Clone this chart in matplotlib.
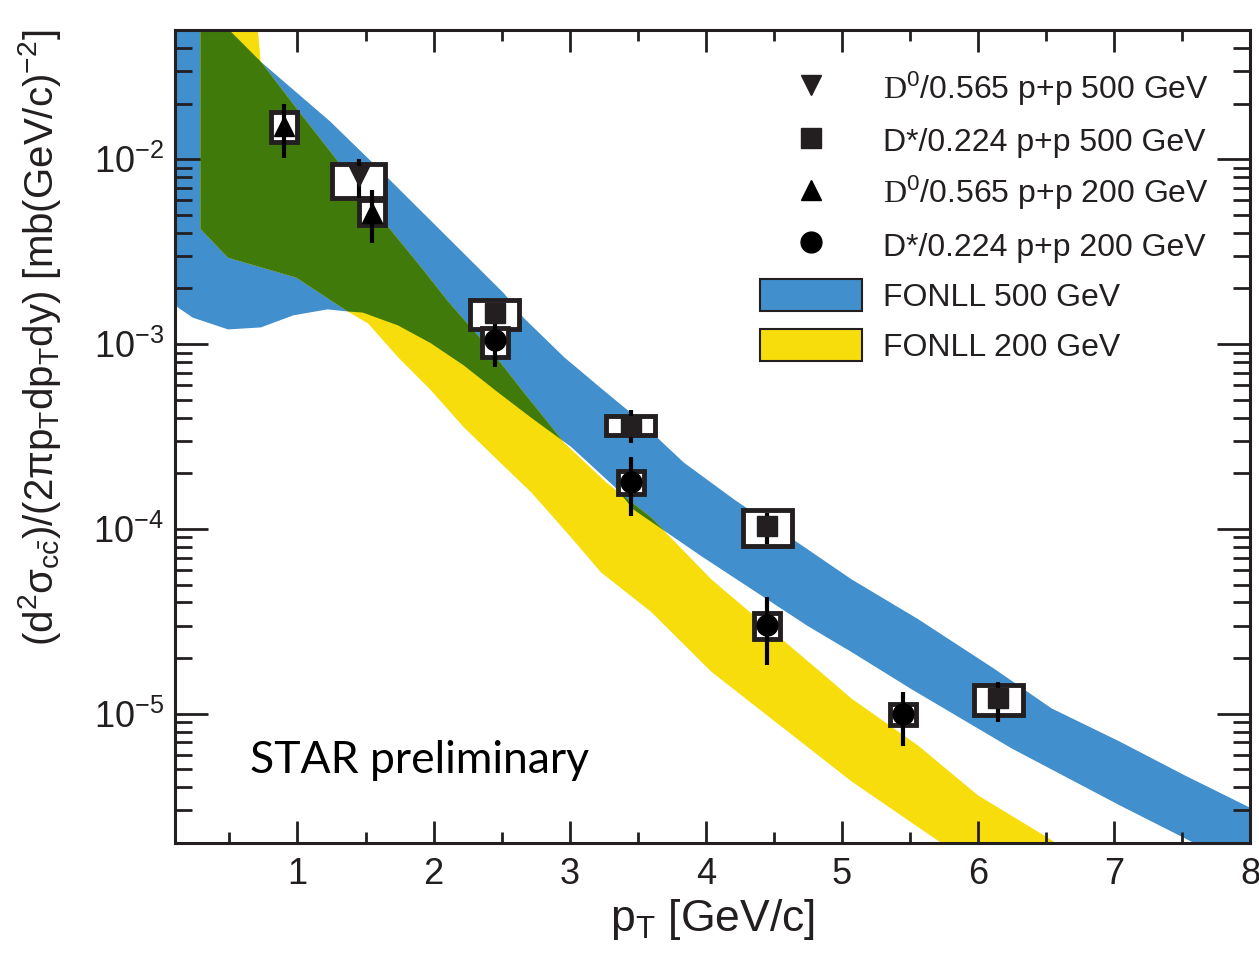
import numpy as np
import matplotlib
matplotlib.use('Agg')
import matplotlib.pyplot as plt
from matplotlib.patches import Rectangle, Patch
from matplotlib.lines import Line2D
from matplotlib.ticker import MultipleLocator, LogLocator, NullFormatter

plt.rcParams['font.family'] = ['Liberation Sans', 'DejaVu Sans']
plt.rcParams['mathtext.fontset'] = 'custom'
plt.rcParams['mathtext.rm'] = 'Liberation Sans'
plt.rcParams['mathtext.it'] = 'Liberation Sans'
plt.rcParams['mathtext.tt'] = 'Liberation Serif'
plt.rcParams['axes.unicode_minus'] = False

DARK = '#231f20'
BLUE = '#418fcd'
YELLOW = '#f7dd0b'
GREEN = '#407a0a'

# FONLL 500 GeV band (upper / lower edges)
fonll500_x_up = [0.1, 0.51, 0.73, 1.24, 1.54, 2.52, 2.66, 2.96, 3.23, 3.45, 3.84, 4.21,
                 4.75, 5.07, 5.56, 6.12, 6.54, 7.04, 7.52, 8.0]
fonll500_up = [1.0e-1, 4.9e-2, 3.37e-2, 1.60e-2, 9.76e-3, 1.87e-3, 1.39e-3, 8.48e-4, 5.77e-4,
               4.24e-4, 2.28e-4, 1.44e-4, 7.74e-5, 5.34e-5, 3.25e-5, 1.75e-5, 1.07e-5,
               7.08e-6, 4.64e-6, 3.1e-6]
fonll500_x_lo = [0.1, 0.12, 0.23, 0.49, 0.73, 0.97, 1.22, 1.37, 1.48, 1.74, 1.98, 2.22, 2.47,
                 2.72, 3.01, 3.33, 3.47, 3.97, 4.75, 5.07, 5.51, 6.25, 7.04, 7.52, 8.0]
fonll500_lo = [1.68e-3, 1.58e-3, 1.39e-3, 1.20e-3, 1.23e-3, 1.43e-3, 1.54e-3, 1.50e-3, 1.48e-3,
               1.26e-3, 1.01e-3, 7.68e-4, 5.50e-4, 3.98e-4, 2.78e-4, 1.69e-4, 1.27e-4,
               7.10e-5, 2.98e-5, 2.16e-5, 1.36e-5, 6.48e-6, 3.20e-6, 2.12e-6, 1.4e-6]

# FONLL 200 GeV band
fonll200_x_up = [0.287, 0.71, 0.73, 1.01, 1.24, 1.69, 1.91, 2.10, 2.42, 2.66, 2.96, 3.27,
                 3.60, 4.04, 4.90, 5.07, 5.56, 6.00, 6.52, 6.76]
fonll200_up = [2e-1, 4.89e-2, 3.37e-2, 1.81e-2, 1.10e-2, 4.09e-3, 2.59e-3, 1.72e-3, 9.25e-4,
               5.50e-4, 2.92e-4, 1.78e-4, 1.15e-4, 5.34e-5, 1.55e-5, 1.21e-5, 6.73e-6,
               3.62e-6, 2.12e-6, 1.6e-6]
fonll200_x_lo = [0.287, 0.49, 0.99, 1.37, 1.52, 1.74, 1.98, 2.22, 2.47, 2.72, 3.01, 3.23,
                 3.60, 4.04, 5.07, 5.68, 5.95]
fonll200_lo = [4.2e-3, 2.93e-3, 2.29e-3, 1.50e-3, 1.29e-3, 8.47e-4, 5.63e-4, 3.56e-4, 2.36e-4,
               1.57e-4, 9.0e-5, 5.82e-5, 3.55e-5, 1.69e-5, 4.31e-6, 2.12e-6, 1.56e-6]

# data points: x, y, stat (low, high), sys (low, high)
d0_500_x = [1.45]
d0_500_y = [8.1e-3]
d0_500_stat = ([6.2e-3], [1.0e-2])
d0_500_sys = ([6.2e-3], [9.46e-3])

dstar_500_x = [2.45, 3.45, 4.45, 6.15]
dstar_500_y = [1.48e-3, 3.6e-4, 1.04e-4, 1.21e-5]
dstar_500_stat = ([1.35e-3, 2.92e-4, 8.24e-5, 9.05e-6], [1.62e-3, 4.4e-4, 1.22e-4, 1.49e-5])
dstar_500_sys = ([1.21e-3, 3.21e-4, 8.09e-5, 9.8e-6], [1.73e-3, 4.10e-4, 1.26e-4, 1.43e-5])

d0_200_x = [0.9, 1.55]
d0_200_y = [1.51e-2, 5.12e-3]
d0_200_stat = ([1.01e-2, 3.53e-3], [2.0e-2, 6.8e-3])
d0_200_sys = ([1.24e-2, 4.39e-3], [1.80e-2, 5.98e-3])

dstar_200_x = [2.45, 3.45, 4.45, 5.45]
dstar_200_y = [1.05e-3, 1.80e-4, 3.02e-5, 1.0e-5]
dstar_200_stat = ([7.5e-4, 1.18e-4, 1.84e-5, 6.73e-6], [1.31e-3, 2.45e-4, 4.27e-5, 1.31e-5])
dstar_200_sys = ([8.53e-4, 1.54e-4, 2.55e-5, 8.69e-6], [1.22e-3, 2.07e-4, 3.52e-5, 1.13e-5])

labels = [r'$\mathtt{D}^{0}$/0.565 p+p 500 GeV', 'D*/0.224 p+p 500 GeV',
          r'$\mathtt{D}^{0}$/0.565 p+p 200 GeV', 'D*/0.224 p+p 200 GeV',
          'FONLL 500 GeV', 'FONLL 200 GeV']


def draw_set(ax, x, y, stat, sys, halfw, marker, color):
    # systematic boxes, then stat error bars, then markers
    for xi, lo, hi in zip(x, sys[0], sys[1]):
        ax.add_patch(Rectangle((xi - halfw, lo), 2 * halfw, hi - lo, facecolor='white',
                               edgecolor=DARK, lw=3.5, zorder=3))
    y = np.array(y)
    yerr = [y - np.array(stat[0]), np.array(stat[1]) - y]
    ax.errorbar(x, y, yerr=yerr, fmt='none', ecolor='black', elinewidth=3, capsize=0, zorder=4)
    ax.plot(x, y, marker=marker, ls='none', ms=15, color=color, zorder=5)


fig = plt.figure(figsize=(12.59, 9.55), dpi=100)
ax = fig.add_axes([0.139, 0.1173, 0.854, 0.8513])
ax.set_yscale('log')

blue = ax.fill(fonll500_x_up + fonll500_x_lo[::-1], fonll500_up + fonll500_lo[::-1],
               color=BLUE, lw=0, zorder=1)[0]
ax.fill(fonll200_x_up + fonll200_x_lo[::-1], fonll200_up + fonll200_lo[::-1],
        color=YELLOW, lw=0, zorder=1)
# overlap of the two bands drawn in green
green = ax.fill(fonll200_x_up + fonll200_x_lo[::-1], fonll200_up + fonll200_lo[::-1],
                color=GREEN, lw=0, zorder=2)[0]
green.set_clip_path(blue)

draw_set(ax, d0_500_x, d0_500_y, d0_500_stat, d0_500_sys, 0.195, 'v', DARK)
draw_set(ax, dstar_500_x, dstar_500_y, dstar_500_stat, dstar_500_sys, 0.18, 's', DARK)
draw_set(ax, d0_200_x, d0_200_y, d0_200_stat, d0_200_sys, 0.096, '^', 'black')
draw_set(ax, dstar_200_x, dstar_200_y, dstar_200_stat, dstar_200_sys, 0.096, 'o', 'black')

ax.set_xlim(0.1, 8)
ax.set_ylim(2e-6, 5e-2)

ax.xaxis.set_major_locator(MultipleLocator(1))
ax.xaxis.set_minor_locator(MultipleLocator(0.5))
ax.yaxis.set_minor_locator(LogLocator(base=10, subs=range(2, 10)))
ax.yaxis.set_minor_formatter(NullFormatter())
ax.tick_params(which='both', direction='in', top=True, right=True, width=2, colors=DARK,
               labelsize=26)
ax.tick_params(axis='x', which='major', length=16, pad=10)
ax.tick_params(axis='x', which='minor', length=8)
ax.tick_params(axis='y', which='major', length=24, pad=8)
ax.tick_params(axis='y', which='minor', length=12)
for s in ax.spines.values():
    s.set_linewidth(2.2)
    s.set_color(DARK)

ax.set_xlabel(r'p$_\mathregular{T}$ [GeV/c]', fontsize=32, color=DARK)
ax.set_ylabel(r'(d$^{2}\sigma_{c\bar{c}}$)/(2$\pi$p$_{T}$dp$_{T}$dy) [mb(GeV/c)$^{-2}$]',
              fontsize=29, color=DARK, loc='top', labelpad=22)

ax.text(0.07, 0.086, 'STAR preliminary', transform=ax.transAxes, fontsize=32,
        family='Lato', color='black', va='baseline')

handles = [Line2D([], [], marker='v', ls='none', ms=15, color=DARK),
           Line2D([], [], marker='s', ls='none', ms=15, color=DARK),
           Line2D([], [], marker='^', ls='none', ms=15, color='black'),
           Line2D([], [], marker='o', ls='none', ms=15, color='black'),
           Patch(facecolor=BLUE, edgecolor=DARK, lw=1.5),
           Patch(facecolor=YELLOW, edgecolor=DARK, lw=1.5)]
leg = ax.legend(handles, labels, loc='upper left', bbox_to_anchor=(0.6036, 0.927),
                bbox_transform=fig.transFigure, frameon=False, fontsize=23,
                handlelength=3.2, handleheight=1.2, handletextpad=0.66,
                labelspacing=0.5, borderpad=0, borderaxespad=0)
for t in leg.get_texts():
    t.set_color(DARK)

fig.savefig('out.png', dpi=100)
